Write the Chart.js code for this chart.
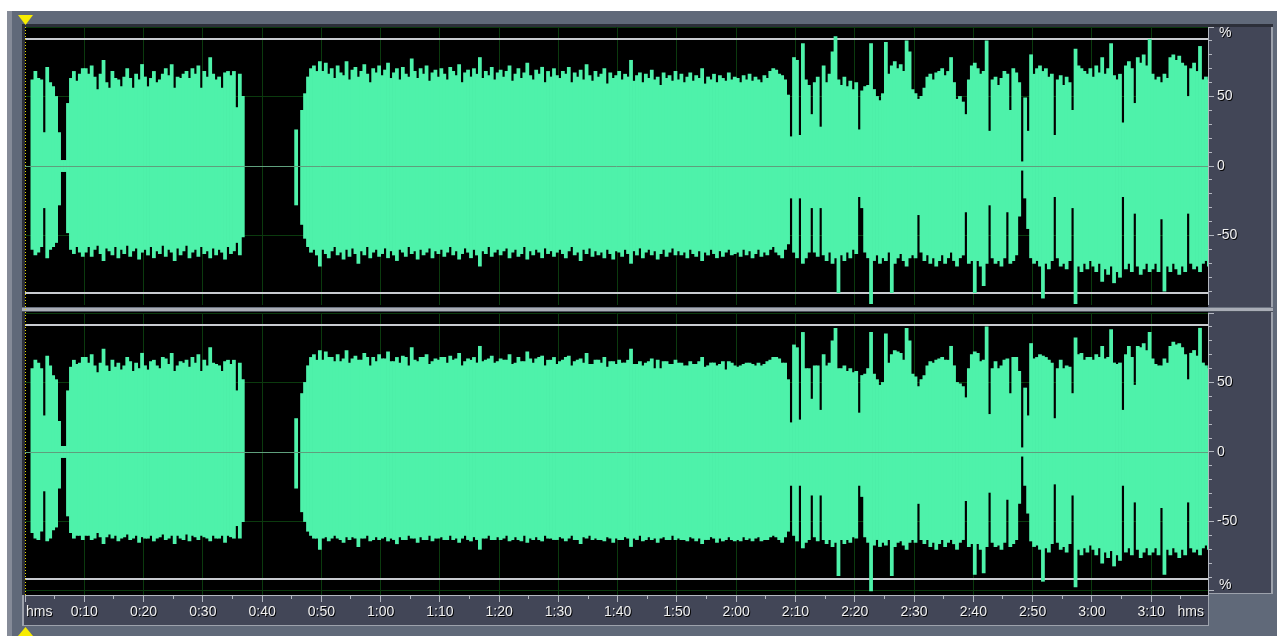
<!DOCTYPE html>
<html>
<head>
<meta charset="utf-8">
<title>Waveform</title>
<script src="https://cdn.jsdelivr.net/npm/chart.js@4.4.1/dist/chart.umd.min.js"></script>
<style>
  html, body { margin: 0; padding: 0; background: #fff; }
  body { width: 1277px; height: 636px; position: relative; overflow: hidden; }
  .box { position: absolute; }
  #frame { left: 7px; top: 11px; width: 1270px; height: 625px; background: #606979; }
  #frameEdge { left: 7px; top: 11px; width: 5px; height: 625px; background: #858b98; }
  #topLine { left: 22px; top: 24px; width: 1251px; height: 3px; background: #2c2f39; }
  #leftLine { left: 22px; top: 24px; width: 3px; height: 571px; background: #2c2f39; }
  #leftLineB { left: 22px; top: 595px; width: 2px; height: 31px; background: #9da2ac; }
  #plotBg { left: 25px; top: 27px; width: 1183px; height: 568px; background: #000; }
  #rightPanel { left: 1208px; top: 27px; width: 63px; height: 566px; background: #424657;
                border-right: 2px solid #9da2ac; border-bottom: 1px solid #9da2ac; }
  #bottomPanel { left: 24px; top: 595px; width: 1184px; height: 30px; background: #424657;
                 border-right: 1px solid #9da2ac; border-bottom: 1px solid #9da2ac; }
  #sepA { left: 22px; top: 307px; width: 1251px; height: 1px; background: #6b7280; }
  #sepB { left: 22px; top: 308px; width: 1251px; height: 3px; background: #a9adb6; }
  #sepC { left: 22px; top: 311px; width: 1251px; height: 1px; background: #4a505c; }
  #cursor { left: 25px; top: 27px; width: 1px; height: 568px;
            background: repeating-linear-gradient(to bottom, #e8d800 0px, #e8d800 1px, transparent 1px, transparent 3px); }
  #triTop { left: 18px; top: 15px; width: 15px; height: 10px; background: #f7ec00;
            clip-path: polygon(0 0, 100% 0, 50% 100%); }
  #triBot { left: 18px; top: 627px; width: 15px; height: 9px; background: #f7ec00;
            clip-path: polygon(50% 0, 100% 100%, 0 100%); }
  canvas { position: absolute; }
  #chA { left: 25px; top: 27px; }
  #chB { left: 25px; top: 313px; }
</style>
</head>
<body>
<div class="box" id="frame"></div>
<div class="box" id="frameEdge"></div>
<div class="box" id="topLine"></div>
<div class="box" id="leftLine"></div>
<div class="box" id="leftLineB"></div>
<div class="box" id="plotBg"></div>
<div class="box" id="rightPanel"></div>
<div class="box" id="bottomPanel"></div>
<canvas id="chA" width="1246" height="278"></canvas>
<canvas id="chB" width="1246" height="313"></canvas>
<div class="box" id="sepA"></div>
<div class="box" id="sepB"></div>
<div class="box" id="sepC"></div>
<div class="box" id="cursor"></div>
<div class="box" id="triTop"></div>
<div class="box" id="triBot"></div>
<script>
// one column = 0.5 s, values = peak level in % (upper / lower)
const colStep = 0.5;
const timeEnd = 199.6;
const clipLevel = 91.4;

const ch1Hi = [
  0,0,62,68,63,62,24,71,60,57,50,24,4,4,45,63,68,61,66,70,
  70,66,72,64,55,66,76,60,56,68,63,62,57,64,70,63,56,66,62,73,
  64,57,63,68,60,62,66,70,65,73,56,64,63,66,68,63,70,66,72,56,
  68,64,78,66,62,64,56,67,68,65,68,42,66,50,0,0,0,0,0,0,
  0,0,0,0,0,0,0,0,0,0,0,26,0,40,52,64,70,72,68,75,
  68,74,66,70,63,72,67,65,75,62,69,71,64,68,73,66,60,70,67,72,
  65,69,74,63,67,70,62,71,66,64,77,68,63,70,66,72,61,67,69,64,
  70,66,62,71,68,65,73,60,67,69,64,70,66,78,63,68,65,71,62,67,
  69,64,68,72,61,66,70,63,67,74,65,62,69,66,71,60,68,64,70,65,
  63,68,66,71,60,67,64,69,62,73,65,61,68,64,66,70,59,67,63,65,
  68,62,66,64,76,61,65,67,60,66,63,69,62,64,58,67,63,65,61,68,
  62,66,60,64,67,61,65,63,70,59,64,62,66,60,65,63,61,67,62,64,
  63,60,65,62,66,61,64,62,60,65,63,68,70,69,66,65,62,51,21,78,
  76,22,88,62,58,37,60,64,28,72,60,66,82,93,62,58,64,57,61,55,
  60,26,54,57,58,88,55,50,47,52,89,66,72,75,70,73,68,90,82,55,
  52,48,50,56,64,66,62,67,68,70,65,68,78,60,48,50,46,37,62,72,
  74,70,66,68,90,25,62,64,58,63,68,66,40,70,67,60,3,49,25,80,
  66,70,72,68,70,64,66,22,62,65,58,64,60,40,84,72,70,68,66,70,
  64,72,67,78,66,70,88,65,62,66,31,72,75,70,45,78,74,80,72,91,
  66,62,64,60,66,63,78,80,76,79,74,72,50,70,74,68,86,62,64,62
];
const ch1Lo = [
  0,0,-60,-64,-62,-58,-30,-66,-60,-58,-55,-28,-4,-4,-48,-60,-63,-58,-62,-65,
  -62,-58,-65,-60,-57,-63,-68,-59,-61,-64,-58,-66,-60,-63,-57,-65,-61,-59,-67,-62,
  -60,-64,-58,-66,-61,-63,-57,-65,-60,-62,-68,-59,-64,-61,-57,-66,-62,-60,-65,-58,
  -63,-61,-66,-59,-64,-60,-62,-67,-58,-63,-61,-55,-64,-51,0,0,0,0,0,0,
  0,0,0,0,0,0,0,0,0,0,0,-28,0,-42,-52,-58,-62,-60,-64,-72,
  -60,-63,-66,-61,-58,-64,-62,-67,-60,-65,-59,-63,-70,-61,-64,-58,-66,-62,-60,-65,
  -63,-59,-66,-61,-64,-68,-60,-62,-65,-58,-63,-61,-67,-60,-64,-62,-59,-66,-61,-63,
  -60,-65,-62,-58,-64,-61,-67,-63,-59,-62,-66,-60,-64,-72,-61,-63,-58,-65,-62,-60,
  -64,-61,-59,-66,-62,-60,-65,-63,-58,-67,-61,-64,-60,-62,-66,-59,-63,-61,-65,-62,
  -60,-63,-66,-61,-58,-64,-62,-68,-60,-63,-59,-65,-61,-64,-62,-66,-60,-63,-67,-61,
  -62,-65,-60,-63,-70,-61,-64,-59,-66,-62,-60,-64,-61,-67,-63,-60,-65,-62,-59,-64,
  -61,-64,-62,-66,-60,-63,-65,-61,-68,-62,-64,-60,-63,-66,-61,-65,-62,-60,-64,-63,
  -62,-65,-60,-64,-61,-66,-63,-60,-65,-62,-64,-60,-58,-62,-64,-66,-60,-56,-23,-62,
  -66,-23,-70,-66,-62,-30,-62,-65,-30,-64,-68,-62,-70,-66,-91,-64,-68,-62,-66,-60,
  -63,-22,-30,-62,-66,-99,-68,-64,-70,-66,-68,-62,-91,-70,-66,-63,-68,-72,-66,-64,
  -66,-35,-62,-68,-64,-70,-66,-72,-68,-64,-70,-66,-62,-68,-72,-66,-64,-33,-70,-68,
  -91,-68,-72,-86,-70,-28,-66,-70,-68,-72,-66,-33,-70,-68,-64,-36,-3,-23,-45,-66,
  -70,-68,-72,-95,-70,-74,-68,-22,-66,-72,-70,-74,-68,-30,-99,-72,-76,-70,-74,-68,
  -72,-76,-70,-83,-74,-78,-72,-84,-76,-80,-22,-74,-70,-76,-34,-72,-78,-74,-70,-76,
  -74,-70,-76,-38,-90,-72,-76,-70,-74,-78,-72,-76,-34,-70,-74,-72,-76,-70,-68,-72
];
const ch2Hi = [
  0,0,60,66,64,60,26,69,62,55,52,22,4,4,44,61,66,63,64,68,
  68,64,70,62,57,64,74,62,58,66,61,64,59,62,68,65,58,64,60,71,
  62,59,65,66,62,60,68,67,63,71,58,62,65,64,66,61,68,64,70,58,
  66,62,75,64,63,62,58,65,66,63,66,44,64,52,0,0,0,0,0,0,
  0,0,0,0,0,0,0,0,0,0,0,24,0,42,50,62,68,70,66,73,
  66,72,68,68,65,70,65,67,73,64,67,69,66,66,71,68,62,68,65,70,
  67,67,72,65,65,68,64,69,68,62,75,66,65,68,68,70,63,65,67,66,
  68,68,64,69,66,67,71,62,65,67,66,68,64,76,65,66,67,69,64,65,
  67,66,66,70,63,64,68,65,65,72,67,64,67,68,69,62,66,66,68,63,
  65,66,68,69,62,65,66,67,64,71,63,63,66,66,64,68,61,65,65,63,
  66,64,64,66,74,63,63,65,62,64,65,67,60,66,60,65,65,63,63,66,
  64,64,62,62,65,63,63,65,68,61,62,64,64,62,63,65,59,65,64,62,
  61,62,63,64,64,63,62,64,62,63,65,66,68,68,67,64,64,52,21,77,
  75,23,86,60,60,38,62,62,30,70,62,64,80,89,60,60,62,58,60,57,
  58,28,55,56,60,86,56,52,48,50,85,64,70,73,72,71,66,89,80,56,
  54,47,52,55,62,65,64,66,67,68,66,66,76,62,50,49,47,39,60,70,
  72,71,65,66,90,27,60,65,60,62,66,67,42,68,68,58,3,46,26,78,
  67,68,70,69,68,66,64,24,60,66,60,62,61,42,82,70,71,66,68,68,
  66,70,68,76,67,68,88,64,63,64,30,70,76,68,48,76,75,78,73,86,
  67,63,62,62,67,64,76,79,77,78,75,70,52,71,73,69,89,64,62,60
];
const ch2Lo = [
  0,0,-58,-62,-63,-57,-28,-64,-62,-56,-54,-26,-4,-4,-46,-58,-62,-60,-60,-63,
  -60,-60,-63,-62,-58,-61,-66,-61,-59,-62,-60,-64,-62,-61,-59,-63,-62,-60,-65,-61,
  -62,-62,-60,-64,-62,-61,-59,-63,-62,-60,-66,-60,-62,-63,-59,-64,-60,-61,-63,-60,
  -61,-62,-64,-60,-62,-62,-60,-65,-60,-61,-62,-53,-62,-50,0,0,0,0,0,0,
  0,0,0,0,0,0,0,0,0,0,0,-26,0,-43,-50,-57,-60,-62,-62,-70,
  -62,-61,-64,-62,-60,-62,-63,-65,-61,-63,-61,-62,-68,-62,-62,-60,-64,-63,-61,-63,
  -62,-61,-64,-62,-63,-66,-61,-63,-63,-60,-62,-62,-65,-61,-63,-63,-60,-64,-62,-62,
  -61,-63,-63,-60,-63,-62,-65,-62,-60,-63,-64,-61,-63,-70,-62,-62,-60,-63,-63,-61,
  -63,-62,-60,-64,-63,-61,-63,-64,-60,-65,-62,-63,-61,-63,-64,-60,-62,-62,-63,-63,
  -61,-62,-64,-62,-60,-63,-63,-66,-61,-62,-60,-63,-62,-63,-63,-64,-61,-62,-65,-62,
  -63,-63,-61,-62,-68,-62,-63,-60,-64,-63,-61,-63,-62,-65,-62,-61,-63,-63,-60,-63,
  -62,-63,-63,-64,-61,-62,-64,-62,-66,-63,-63,-61,-62,-65,-62,-64,-63,-61,-63,-64,
  -63,-64,-61,-63,-62,-64,-62,-61,-64,-63,-63,-61,-60,-61,-63,-65,-61,-57,-24,-60,
  -64,-24,-69,-65,-63,-31,-61,-64,-31,-63,-66,-63,-68,-65,-89,-63,-66,-63,-65,-61,
  -62,-24,-32,-61,-65,-100,-67,-63,-68,-65,-67,-63,-89,-68,-65,-64,-67,-70,-65,-63,
  -65,-37,-63,-66,-63,-68,-65,-70,-66,-63,-68,-65,-63,-66,-70,-65,-63,-35,-68,-66,
  -88,-66,-70,-87,-68,-29,-65,-68,-67,-70,-65,-34,-68,-66,-63,-37,-3,-24,-44,-64,
  -68,-67,-70,-93,-69,-72,-66,-23,-65,-70,-68,-72,-66,-31,-97,-70,-74,-69,-72,-67,
  -70,-74,-69,-80,-72,-76,-71,-82,-74,-78,-24,-72,-69,-74,-36,-70,-76,-72,-69,-74,
  -72,-69,-74,-40,-88,-70,-74,-69,-72,-76,-70,-74,-36,-69,-72,-70,-74,-69,-67,-70
];

const timeTicks = [0,5,10,15,20,25,30,35,40,45,50,55,60,65,70,75,80,85,90,95,
                   100,105,110,115,120,125,130,135,140,145,150,155,160,165,170,175,180,185,190,195];
const timeLabelAt = [10,20,30,40,50,60,70,80,90,100,110,120,130,140,150,160,170,180,190];
const timeLabels = ['0:10','0:20','0:30','0:40','0:50','1:00','1:10','1:20','1:30','1:40',
                    '1:50','2:00','2:10','2:20','2:30','2:40','2:50','3:00','3:10'];
const levelTicks = [-100,-90,-80,-70,-60,-50,-40,-30,-20,-10,0,10,20,30,40,50,60,70,80,90,100];
const levelLabels = [50, 0, -50];
const levelMajor = [-100, -50, 0, 50, 100];

const GREEN = '#4ef2aa';
const GRID_GREEN = '#0b3a0e';
const TICK_GREY = '#b3b7c0';
const TEXT = '#f0f0f0';
const NONE = 'rgba(0,0,0,0)';

Chart.defaults.font.family = '"Liberation Sans", Arial, sans-serif';
Chart.defaults.font.size = 14;

function makeBars(hi, lo) {
  const out = [];
  hi.forEach((h, i) => {
    if (h === 0 && lo[i] === 0) return;
    out.push({ x: i * colStep + colStep / 2, y: [lo[i], h] });
  });
  return out;
}

const scopeDecor = {
  id: 'scopeDecor',
  beforeDatasetsDraw(chart) {
    const { ctx, chartArea: a, scales: { y } } = chart;
    ctx.save();
    ctx.strokeStyle = '#c9cbd0';
    ctx.lineWidth = 2;
    [clipLevel, -clipLevel].forEach(v => {
      const py = Math.round(y.getPixelForValue(v));
      ctx.beginPath();
      ctx.moveTo(a.left, py);
      ctx.lineTo(a.right, py);
      ctx.stroke();
    });
    ctx.restore();
  },
  afterDatasetsDraw(chart) {
    const { ctx, chartArea: a, scales: { y } } = chart;
    const py = Math.round(y.getPixelForValue(0)) + 0.5;
    ctx.save();
    ctx.strokeStyle = '#5f9f7d';
    ctx.lineWidth = 1;
    ctx.beginPath();
    ctx.moveTo(a.left, py);
    ctx.lineTo(a.right, py);
    ctx.stroke();
    ctx.restore();
    // tick labels (z = 1) get drawn next, give them the dark drop shadow
    ctx.shadowColor = 'rgba(0,0,0,0.95)';
    ctx.shadowOffsetX = 1;
    ctx.shadowOffsetY = 1;
    ctx.shadowBlur = 0;
  },
  afterDraw(chart, args, opts) {
    const ctx = chart.ctx;
    const y = chart.scales.y;
    ctx.fillStyle = TEXT;
    ctx.font = '14px "Liberation Sans", Arial, sans-serif';
    ctx.textAlign = 'left';
    ctx.textBaseline = 'middle';
    if (opts.unit === 'top') {
      ctx.fillText('%', y.left + 11, y.getPixelForValue(100) + 6);
    } else {
      ctx.fillText('%', y.left + 11, y.getPixelForValue(-100) - 6);
    }
    if (opts.hms) {
      const x = chart.scales.x;
      const ly = x.top + 9 + 8.4;
      ctx.textAlign = 'left';
      ctx.fillText('hms', x.left + 1, ly);
      ctx.textAlign = 'right';
      ctx.fillText('hms', x.right - 4, ly);
    }
    ctx.shadowColor = NONE;
    ctx.shadowOffsetX = 0;
    ctx.shadowOffsetY = 0;
  }
};

function channel(id, hi, lo, yMin, showTime, unit) {
  return new Chart(document.getElementById(id), {
    type: 'bar',
    data: {
      datasets: [{
        data: makeBars(hi, lo),
        backgroundColor: GREEN,
        borderWidth: 0,
        borderSkipped: false,
        barPercentage: 1,
        categoryPercentage: 1,
        inflateAmount: 0.4
      }]
    },
    options: {
      responsive: false,
      animation: false,
      events: [],
      layout: { padding: 0 },
      plugins: {
        legend: { display: false },
        tooltip: { enabled: false },
        scopeDecor: { unit: unit, hms: showTime }
      },
      scales: {
        x: {
          type: 'linear', min: 0, max: timeEnd, offset: false,
          afterBuildTicks: s => { s.ticks = timeTicks.map(v => ({ value: v })); },
          afterFit: s => { s.height = showTime ? 31 : 0; s.paddingLeft = 0; s.paddingRight = 0; },
          ticks: {
            display: showTime, autoSkip: false, maxRotation: 0, padding: 2, color: TEXT, z: 1,
            callback: v => { const k = timeLabelAt.indexOf(v); return k >= 0 ? timeLabels[k] : ''; }
          },
          grid: {
            offset: false,
            color: c => (c.tick && timeLabelAt.includes(c.tick.value)) ? GRID_GREEN : NONE,
            drawTicks: showTime, tickLength: 7, tickColor: TICK_GREY,
            tickBorderDash: c => (c.tick && c.tick.value % 10 === 0) ? [] : [3, 20]
          },
          border: { display: showTime, color: TICK_GREY }
        },
        y: {
          position: 'right', min: yMin, max: 100,
          afterBuildTicks: s => { s.ticks = levelTicks.map(v => ({ value: v })); },
          afterFit: s => { s.width = 63; s.paddingTop = 0; s.paddingBottom = 0; },
          ticks: {
            autoSkip: false, padding: 3, color: TEXT, z: 1,
            callback: v => levelLabels.includes(v) ? String(v) : ''
          },
          grid: {
            color: c => (c.tick && levelMajor.includes(c.tick.value) && c.tick.value !== 0) ? GRID_GREEN : NONE,
            tickLength: 6, tickColor: TICK_GREY,
            tickBorderDash: c => (c.tick && levelMajor.includes(c.tick.value)) ? [] : [3, 20]
          },
          border: { display: true, color: TICK_GREY }
        }
      }
    },
    plugins: [scopeDecor]
  });
}

channel('chA', ch1Hi, ch1Lo, -100, false, 'top');
channel('chB', ch2Hi, ch2Lo, -102.9, true, 'bottom');
</script>
</body>
</html>
